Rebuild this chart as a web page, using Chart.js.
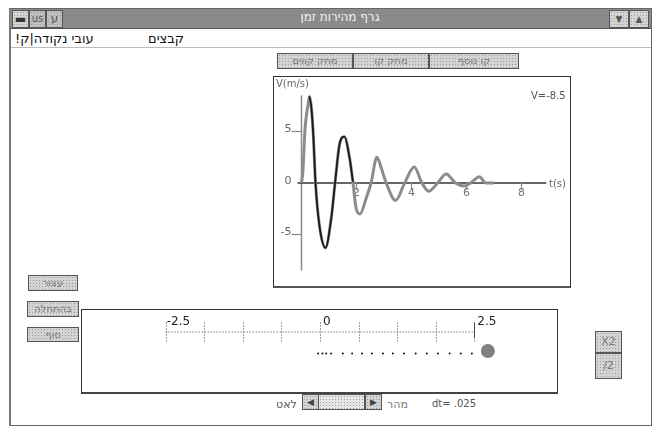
<!DOCTYPE html>
<html><head><meta charset="utf-8">
<script src="https://cdn.jsdelivr.net/npm/chart.js@4"></script>
<style>
html,body{margin:0;padding:0;background:#fff;width:656px;height:430px;overflow:hidden;font-family:"DejaVu Sans",sans-serif;}
.a{position:absolute;box-sizing:border-box;}
.btn{position:absolute;box-sizing:border-box;border:1px solid #555;background:#d4d4d4;background-image:radial-gradient(#9a9a9a 0.6px,transparent 0.8px);background-size:3px 3px;color:#777;font-size:10px;text-align:center;line-height:14px;direction:rtl;}
.ltr{direction:ltr;}
.t{position:absolute;white-space:nowrap;}
</style></head>
<body>
<!-- window frame -->
<div class="a" style="left:9px;top:8px;width:643px;height:418px;border:1px solid #666;border-left:2px solid #777;"></div>
<div class="a" style="left:10px;top:9px;width:641px;height:20px;background:#8a8a8a;border-bottom:1px solid #555;"></div>
<div class="t" style="left:0;width:680px;top:10px;text-align:center;color:#f4f4f4;font-size:12px;direction:rtl;">גרף מהירות זמן</div>
<div class="btn ltr" style="left:12px;top:10px;width:17px;height:18px;color:#333;font-size:12px;line-height:16px;">▬</div>
<div class="btn ltr" style="left:29px;top:10px;width:17px;height:18px;color:#555;font-size:10px;line-height:16px;background-color:#c0c0c0;">us</div>
<div class="btn" style="left:46px;top:10px;width:17px;height:18px;color:#555;font-size:12px;line-height:16px;background-color:#c0c0c0;">ע</div>
<div class="btn ltr" style="left:609px;top:10px;width:20px;height:18px;color:#555;font-size:9px;line-height:16px;">▼</div>
<div class="btn ltr" style="left:629px;top:10px;width:20px;height:18px;color:#555;font-size:9px;line-height:16px;">▲</div>
<!-- menu -->
<div class="t" style="left:15px;top:31px;font-size:13px;color:#111;direction:rtl;">עובי נקודה|ק!</div>
<div class="t" style="left:148px;top:31px;font-size:13px;color:#111;direction:rtl;">קבצים</div>
<div class="a" style="left:11px;top:47px;width:640px;height:1px;background:#bbb;"></div>
<!-- top buttons -->
<div class="btn" style="left:277px;top:53px;width:76px;height:16px;">מחק קווים</div>
<div class="btn" style="left:353px;top:53px;width:76px;height:16px;">מחק קו</div>
<div class="btn" style="left:429px;top:53px;width:90px;height:16px;">קו נוסף</div>
<!-- main chart frame -->
<div class="a" style="left:273px;top:76px;width:298px;height:212px;border:1px solid #333;border-bottom:2px solid #555;"></div>
<canvas id="vt" width="296" height="209" style="position:absolute;left:274px;top:77px;"></canvas>
<div class="t" style="left:276px;top:78px;font-size:10px;color:#666;">V(m/s)</div>
<div class="t" style="left:531px;top:90px;font-size:10px;color:#555;">V=-8.5</div>
<div class="t" style="left:549px;top:178px;font-size:10px;color:#666;">t(s)</div>
<!-- left buttons -->
<div class="btn" style="left:28px;top:275px;width:50px;height:16px;">עצור</div>
<div class="btn" style="left:27px;top:301px;width:52px;height:16px;">בהתחלה</div>
<div class="btn" style="left:27px;top:327px;width:52px;height:15px;">סוף</div>
<!-- lower panel -->
<div class="a" style="left:81px;top:309px;width:477px;height:85px;border:1px solid #333;border-bottom:2px solid #444;"></div>
<canvas id="pos" width="475" height="82" style="position:absolute;left:82px;top:310px;"></canvas>
<div class="btn ltr" style="left:595px;top:331px;width:27px;height:22px;line-height:20px;font-size:11px;">X2</div>
<div class="btn ltr" style="left:595px;top:353px;width:27px;height:26px;line-height:24px;font-size:11px;">/2</div>
<!-- speed bar -->
<div class="t" style="left:276px;top:398px;font-size:11px;color:#555;direction:rtl;">לאט</div>
<div class="btn ltr" style="left:302px;top:394px;width:17px;height:16px;color:#444;font-size:9px;">◀</div>
<div class="btn" style="left:318px;top:394px;width:47px;height:16px;background-color:#e6e6e6;"></div>
<div class="btn ltr" style="left:365px;top:394px;width:17px;height:16px;color:#444;font-size:9px;">▶</div>
<div class="t" style="left:387px;top:398px;font-size:11px;color:#777;direction:rtl;">מהר</div>
<div class="t" style="left:432px;top:398px;font-size:10px;color:#555;">dt= .025</div>

<script>
// ---- main chart data: velocity vs time ----
const timeS    = [0, 0.05, 0.13, 0.23, 0.29, 0.36, 0.43, 0.51, 0.65, 0.87, 1.08, 1.22, 1.38, 1.56, 1.75, 1.87, 1.99, 2.13, 2.35, 2.53, 2.74, 2.92, 3.08, 3.42, 3.75, 4.10, 4.38, 4.63, 4.95, 5.26, 5.60, 5.93, 6.15, 6.47, 6.70, 7.00];
const velocity = [0, 1.1, 5.3, 7.5, 8.4, 7.3, 4.6, 0, -4.1, -6.3, -3.45, 0, 3.7, 4.5, 2.4, 0.1, -2.5, -3.0, -1.5, 0, 2.5, 1.3, 0, -1.7, 0, 1.55, 0, -0.8, 0, 0.87, 0, -0.3, 0, 0.6, 0, 0];
const darkTraceRange = [0.29, 1.87];
const timeTicks = [2, 4, 6, 8];
const timeTickLabels = ['2', '4', '6', '8'];
const velTicks = [5, 0, -5];
const velTickLabels = ['5', '0', '-5'];
const velAxisLimit = 8.5;
const timeAxisEnd = 8.9;

// ---- lower panel data: position ruler ----
const rulerTicks = [-2.5, -1.875, -1.25, -0.625, 0, 0.625, 1.25, 1.875, 2.5];
const rulerLabelValues = [-2.5, 0, 2.5];
const rulerLabels = ['-2.5', '0', '2.5'];
const trailPos = [-0.03, 0.04, 0.10, 0.18, 0.37, 0.52, 0.68, 0.84, 1.02, 1.18, 1.36, 1.55, 1.73, 1.91, 2.10, 2.28, 2.46];
const bodyPos = [2.72];

const mainPts = timeS.map((t, i) => ({x: t, y: velocity[i]}));
const darkPts = mainPts.filter(p => p.x >= darkTraceRange[0] && p.x <= darkTraceRange[1]);

const axesPlugin = {
  id: 'vtAxes',
  beforeDatasetsDraw(chart) {
    const ctx = chart.ctx, xs = chart.scales.x, ys = chart.scales.y;
    const x0 = xs.getPixelForValue(0), y0 = ys.getPixelForValue(0);
    ctx.save();
    ctx.strokeStyle = '#8a8a8a'; ctx.lineWidth = 1.5;
    ctx.beginPath(); ctx.moveTo(x0, ys.getPixelForValue(velAxisLimit)); ctx.lineTo(x0, ys.getPixelForValue(-velAxisLimit)); ctx.stroke();
    ctx.strokeStyle = '#333'; ctx.lineWidth = 1.5;
    ctx.beginPath(); ctx.moveTo(x0 - 4, y0); ctx.lineTo(xs.getPixelForValue(timeAxisEnd), y0); ctx.stroke();
    ctx.strokeStyle = '#888'; ctx.lineWidth = 1.2;
    ctx.fillStyle = '#777'; ctx.font = '11px "DejaVu Sans"'; ctx.textAlign = 'center'; ctx.textBaseline = 'top';
    timeTicks.forEach((v, i) => {
      const px = xs.getPixelForValue(v);
      ctx.beginPath(); ctx.moveTo(px, y0 - 1); ctx.lineTo(px, y0 + 7); ctx.stroke();
      ctx.fillText(timeTickLabels[i], px, y0 + 5);
    });
    ctx.textAlign = 'right'; ctx.textBaseline = 'middle'; ctx.fillStyle = '#666';
    velTicks.forEach((v, i) => {
      const py = ys.getPixelForValue(v);
      if (v !== 0) { ctx.beginPath(); ctx.moveTo(x0 - 10, py); ctx.lineTo(x0, py); ctx.stroke(); }
      ctx.fillText(velTickLabels[i], x0 - 10, py - 2);
    });
    ctx.restore();
  }
};

new Chart(document.getElementById('vt'), {
  type: 'scatter',
  data: { datasets: [
    { data: mainPts, order: 2, showLine: true, borderColor: '#8c8c8c', borderWidth: 3, pointRadius: 0, cubicInterpolationMode: 'monotone' },
    { data: darkPts, order: 1, showLine: true, borderColor: '#1a1a1a', borderWidth: 1.8, pointRadius: 0, cubicInterpolationMode: 'monotone' }
  ]},
  options: {
    responsive: false, animation: false, devicePixelRatio: 1,
    layout: { padding: 0 },
    plugins: { legend: { display: false }, tooltip: { enabled: false } },
    scales: {
      x: { type: 'linear', display: false, min: -1.0, max: 9.764 },
      y: { type: 'linear', display: false, min: -10.0, max: 10.29 }
    }
  },
  plugins: [axesPlugin]
});

const rulerPlugin = {
  id: 'ruler',
  beforeDatasetsDraw(chart) {
    const ctx = chart.ctx, xs = chart.scales.x, ys = chart.scales.y;
    const ry = ys.getPixelForValue(1);
    ctx.save();
    ctx.strokeStyle = '#444'; ctx.lineWidth = 1; ctx.setLineDash([1, 2]);
    ctx.beginPath(); ctx.moveTo(xs.getPixelForValue(-2.5), ry + 0.5); ctx.lineTo(xs.getPixelForValue(2.5), ry + 0.5); ctx.stroke();
    rulerTicks.forEach(v => {
      const px = Math.round(xs.getPixelForValue(v)) + 0.5;
      ctx.beginPath(); ctx.moveTo(px, ry - 9); ctx.lineTo(px, ry + 10); ctx.stroke();
    });
    ctx.setLineDash([]);
    const pe = Math.round(xs.getPixelForValue(2.5)) + 0.5;
    ctx.beginPath(); ctx.moveTo(pe, ry - 9); ctx.lineTo(pe, ry + 6); ctx.stroke();
    ctx.fillStyle = '#222'; ctx.font = '12px "DejaVu Sans"'; ctx.textAlign = 'left'; ctx.textBaseline = 'middle';
    rulerLabelValues.forEach((v, i) => {
      const px = xs.getPixelForValue(v);
      ctx.fillText(rulerLabels[i], px + (v < 0 ? 1 : 3), ry - 10);
    });
    ctx.restore();
  }
};

new Chart(document.getElementById('pos'), {
  type: 'scatter',
  data: { datasets: [
    { data: trailPos.map(p => ({x: p, y: 0})), pointRadius: 1, pointBorderWidth: 0, backgroundColor: '#111', borderColor: '#111' },
    { data: bodyPos.map(p => ({x: p, y: 0.11})), pointRadius: 7, pointBorderWidth: 0, backgroundColor: '#808080', borderColor: '#808080' }
  ]},
  options: {
    responsive: false, animation: false, devicePixelRatio: 1,
    layout: { padding: 0 },
    plugins: { legend: { display: false }, tooltip: { enabled: false } },
    scales: {
      x: { type: 'linear', display: false, min: -3.742, max: 3.726 },
      y: { type: 'linear', display: false, min: -1.434, max: 1.66 }
    }
  },
  plugins: [rulerPlugin]
});
</script>
</body></html>
